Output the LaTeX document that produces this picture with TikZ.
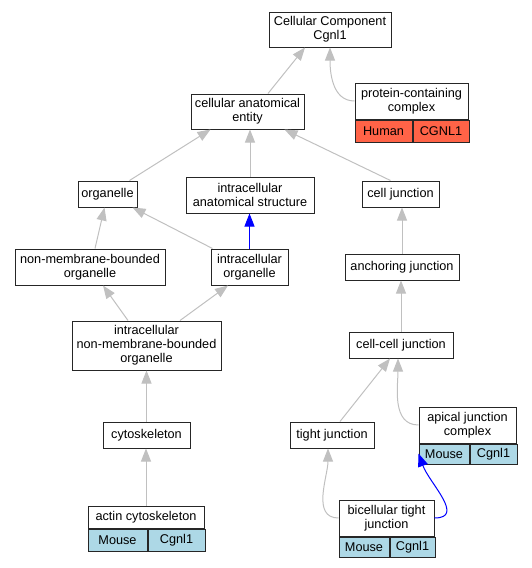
\documentclass[tikz,border=0pt]{standalone}
\usepackage{fontspec}
\setmainfont{Liberation Sans}
\usepackage{tikz}
\usetikzlibrary{positioning}
\usetikzlibrary{arrows.meta}
\definecolor{tomato}{HTML}{FF6347}
\definecolor{lightblue}{HTML}{ADD8E6}
\definecolor{edgegray}{HTML}{C0C0C0}

\begin{document}
\begin{tikzpicture}[x=1pt,y=-1pt,font=\fontsize{12.7}{14}\selectfont]
        \tikzstyle{term}=[draw=black!85, line width=1pt, fill=white,
            align=center, inner sep=0pt]
        \tikzstyle{cell}=[term, anchor=north west]
        \tikzstyle{isa}=[draw=edgegray, line width=1pt,
            -{Triangle[length=13pt,width=10pt]}]
        \tikzstyle{partof}=[isa, draw=blue]

            \useasboundingbox (0,0) rectangle (532,568);

            \node[term, minimum width=122pt, minimum height=35pt] (cc) at (330,29.5) {Cellular Component\\Cgnl1};
            \node[term, minimum width=113pt, minimum height=36pt] (pcc) at (411.5,101) {protein-containing\\complex};
            \node[cell, fill=tomato, minimum width=57pt, minimum height=22pt] (pcch) at (pcc.south west) {Human};
            \node[cell, fill=tomato, minimum width=56pt, minimum height=22pt] (pccg) at (pcch.north east) {CGNL1};
            \node[term, minimum width=113pt, minimum height=35pt] (cae) at (247.5,111.5) {cellular anatomical\\entity};
            \node[term, minimum width=59pt, minimum height=26pt] (org) at (107.5,194) {organelle};
            \node[term, minimum width=128pt, minimum height=36pt] (ias) at (250,195) {intracellular\\anatomical structure};
            \node[term, minimum width=77pt, minimum height=26pt] (cj) at (400.5,194) {cell junction};
            \node[term, minimum width=150pt, minimum height=36pt] (nmbo) at (90,267) {non-membrane-bounded\\organelle};
            \node[term, minimum width=77pt, minimum height=36pt] (io) at (249.5,267) {intracellular\\organelle};
            \node[term, minimum width=114pt, minimum height=26pt] (aj) at (402,267) {anchoring junction};
            \node[term, minimum width=149pt, minimum height=49pt] (inmbo) at (146.5,345.5) {intracellular\\non-membrane-bounded\\organelle};
            \node[term, minimum width=104pt, minimum height=26pt] (ccj) at (401,345) {cell-cell junction};
            \node[term, minimum width=87pt, minimum height=26pt] (cyto) at (146.5,435) {cytoskeleton};
            \node[term, minimum width=84pt, minimum height=26pt] (tj) at (332,435) {tight junction};
            \node[term, minimum width=97pt, minimum height=36pt] (ajc) at (467.5,425) {apical junction\\complex};
            \node[cell, fill=lightblue, minimum width=50pt, minimum height=20pt] (ajcm) at (ajc.south west) {Mouse};
            \node[cell, fill=lightblue, minimum width=47pt, minimum height=20pt] (ajcg) at (ajcm.north east) {Cgnl1};
            \node[term, minimum width=116pt, minimum height=22pt] (ac) at (146,517) {actin cytoskeleton};
            \node[cell, fill=lightblue, minimum width=59pt, minimum height=22pt] (acm) at (ac.south west) {Mouse};
            \node[cell, fill=lightblue, minimum width=57pt, minimum height=22pt] (acg) at (acm.north east) {Cgnl1};
            \node[term, minimum width=95pt, minimum height=36pt] (btj) at (386.5,518) {bicellular tight\\junction};
            \node[cell, fill=lightblue, minimum width=50pt, minimum height=20pt] (btjm) at (btj.south west) {Mouse};
            \node[cell, fill=lightblue, minimum width=45pt, minimum height=20pt] (btjg) at (btjm.north east) {Cgnl1};

            \draw[isa] ([xshift=20.5pt]cae.north) -- ([xshift=-25pt]cc.south);
            \draw[isa] (pcc.west) to[out=180, in=-90] (cc.south);
            \draw[isa] ([xshift=22pt]org.north) -- ([xshift=-37pt]cae.south);
            \draw[isa] (ias.north) -- (ias.north |- cae.south);
            \draw[isa] ([xshift=-10pt]cj.north) -- ([xshift=37pt]cae.south);
            \draw[isa] ([xshift=5pt]nmbo.north) -- ([xshift=-3pt]org.south);
            \draw[isa] ([xshift=2pt]io.north west) -- ([xshift=-5pt]org.south east);
            \draw[partof] (io.north) -- (io.north |- ias.south);
            \draw[isa] (aj.north) -- (aj.north |- cj.south);
            \draw[isa] ([xshift=-18.5pt]inmbo.north) -- ([xshift=13pt]nmbo.south);
            \draw[isa] ([xshift=33.5pt]inmbo.north) -- ([xshift=-21.5pt]io.south);
            \draw[isa] (ccj.north) -- (ccj.north |- aj.south);
            \draw[isa] (cyto.north) -- (cyto.north |- inmbo.south);
            \draw[isa] ([xshift=8pt]tj.north) -- ([xshift=-11pt]ccj.south);
            \draw[isa] (ajc.west) to[out=180, in=-90] ([xshift=-3pt]ccj.south);
            \draw[isa] (ac.north) -- (ac.north |- cyto.south);
            \draw[isa] (btj.west) to[out=180, in=-90] ([xshift=-4pt]tj.south);
            \draw[partof] (btj.east) to[out=0, in=-70, looseness=1.2] ([yshift=11pt]ajcm.south west);
        \end{tikzpicture}
\end{document}
